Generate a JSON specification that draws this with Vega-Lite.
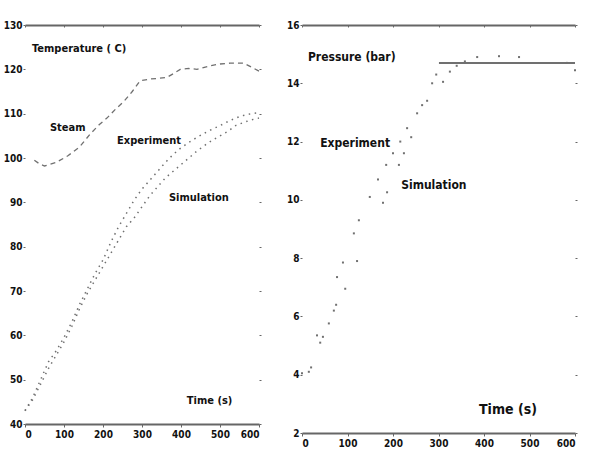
{
  "$schema": "https://vega.github.io/schema/vega-lite/v6.json",
  "background": "white",
  "padding": {"left": 3, "top": 20, "right": 4, "bottom": 2},
  "spacing": 24,
  "config": {
    "view": {"stroke": null},
    "axis": {"labelFont": "DejaVu Sans Condensed", "labelFontWeight": "bold", "labelFontSize": 10, "labelColor": "#111", "grid": false, "title": null, "domainColor": "#666", "tickColor": "#666"},
    "text": {"font": "DejaVu Sans Condensed", "fontWeight": "bold", "color": "#111", "align": "left", "baseline": "middle"}
  },
  "datasets": {
    "steam": [
      {"t": 24, "v": 99.5}, {"t": 35, "v": 98.8}, {"t": 50, "v": 98.2}, {"t": 80, "v": 99}, {"t": 110, "v": 100.5},
      {"t": 140, "v": 102.5}, {"t": 167, "v": 105.4}, {"t": 190, "v": 107.5}, {"t": 210, "v": 109}, {"t": 232, "v": 111},
      {"t": 254, "v": 112.8}, {"t": 275, "v": 115}, {"t": 295, "v": 117.4}, {"t": 320, "v": 117.8}, {"t": 345, "v": 118},
      {"t": 364, "v": 118.2}, {"t": 380, "v": 119}, {"t": 398, "v": 120}, {"t": 420, "v": 120.2}, {"t": 441, "v": 120},
      {"t": 474, "v": 120.8}, {"t": 500, "v": 121.2}, {"t": 526, "v": 121.4}, {"t": 561, "v": 121.4}, {"t": 600, "v": 119.6}
    ],
    "temp": [
      {"s": "Experiment", "t": 0, "v": 43}, {"s": "Experiment", "t": 20, "v": 46}, {"s": "Experiment", "t": 40, "v": 50},
      {"s": "Experiment", "t": 60, "v": 54}, {"s": "Experiment", "t": 80, "v": 56.5}, {"s": "Experiment", "t": 100, "v": 59.5},
      {"s": "Experiment", "t": 120, "v": 63}, {"s": "Experiment", "t": 140, "v": 67}, {"s": "Experiment", "t": 160, "v": 70.5},
      {"s": "Experiment", "t": 180, "v": 74}, {"s": "Experiment", "t": 200, "v": 77}, {"s": "Experiment", "t": 220, "v": 81},
      {"s": "Experiment", "t": 240, "v": 84.5}, {"s": "Experiment", "t": 260, "v": 87.5}, {"s": "Experiment", "t": 280, "v": 90.5},
      {"s": "Experiment", "t": 300, "v": 93}, {"s": "Experiment", "t": 320, "v": 95}, {"s": "Experiment", "t": 340, "v": 97},
      {"s": "Experiment", "t": 360, "v": 99}, {"s": "Experiment", "t": 380, "v": 100.8}, {"s": "Experiment", "t": 400, "v": 102.3},
      {"s": "Experiment", "t": 420, "v": 103.5}, {"s": "Experiment", "t": 440, "v": 104.6}, {"s": "Experiment", "t": 460, "v": 105.6},
      {"s": "Experiment", "t": 480, "v": 106.5}, {"s": "Experiment", "t": 500, "v": 107.3}, {"s": "Experiment", "t": 520, "v": 108.2},
      {"s": "Experiment", "t": 540, "v": 109}, {"s": "Experiment", "t": 560, "v": 109.6}, {"s": "Experiment", "t": 580, "v": 110},
      {"s": "Experiment", "t": 600, "v": 110.2},
      {"s": "Simulation", "t": 0, "v": 43}, {"s": "Simulation", "t": 20, "v": 45.5}, {"s": "Simulation", "t": 40, "v": 49},
      {"s": "Simulation", "t": 60, "v": 52.5}, {"s": "Simulation", "t": 80, "v": 55.5}, {"s": "Simulation", "t": 100, "v": 58.5},
      {"s": "Simulation", "t": 120, "v": 62}, {"s": "Simulation", "t": 140, "v": 66}, {"s": "Simulation", "t": 160, "v": 69.5},
      {"s": "Simulation", "t": 180, "v": 72.5}, {"s": "Simulation", "t": 200, "v": 75.5}, {"s": "Simulation", "t": 220, "v": 78.5},
      {"s": "Simulation", "t": 240, "v": 81.5}, {"s": "Simulation", "t": 260, "v": 84.5}, {"s": "Simulation", "t": 280, "v": 86.5},
      {"s": "Simulation", "t": 300, "v": 89}, {"s": "Simulation", "t": 320, "v": 91.5}, {"s": "Simulation", "t": 340, "v": 93.5},
      {"s": "Simulation", "t": 360, "v": 95.5}, {"s": "Simulation", "t": 380, "v": 97}, {"s": "Simulation", "t": 400, "v": 98.5},
      {"s": "Simulation", "t": 420, "v": 100}, {"s": "Simulation", "t": 440, "v": 101.5}, {"s": "Simulation", "t": 460, "v": 102.8},
      {"s": "Simulation", "t": 480, "v": 104}, {"s": "Simulation", "t": 500, "v": 105}, {"s": "Simulation", "t": 520, "v": 106},
      {"s": "Simulation", "t": 540, "v": 107.3}, {"s": "Simulation", "t": 560, "v": 108}, {"s": "Simulation", "t": 580, "v": 108.6},
      {"s": "Simulation", "t": 600, "v": 109}
    ],
    "tlabels": [
      {"t": 18, "v": 124.6, "text": "Temperature ( C)", "size": 11},
      {"t": 64, "v": 106.8, "text": "Steam", "size": 11},
      {"t": 236, "v": 103.8, "text": "Experiment", "size": 11},
      {"t": 369, "v": 91, "text": "Simulation", "size": 11},
      {"t": 415, "v": 45.2, "text": "Time (s)", "size": 11}
    ],
    "psteam": [{"t": 301, "v": 14.7}, {"t": 600, "v": 14.7}],
    "pres": [
      {"s": "Experiment", "t": 0, "v": 4.05}, {"s": "Experiment", "t": 15, "v": 4.1}, {"s": "Simulation", "t": 20, "v": 4.25},
      {"s": "Experiment", "t": 33, "v": 5.35}, {"s": "Simulation", "t": 40, "v": 5.1}, {"s": "Experiment", "t": 46, "v": 5.3},
      {"s": "Simulation", "t": 59, "v": 5.76}, {"s": "Experiment", "t": 70, "v": 6.2}, {"s": "Experiment", "t": 75, "v": 6.4},
      {"s": "Experiment", "t": 77, "v": 7.35}, {"s": "Experiment", "t": 90, "v": 7.85}, {"s": "Simulation", "t": 95, "v": 6.95},
      {"s": "Experiment", "t": 114, "v": 8.85}, {"s": "Simulation", "t": 121, "v": 7.9}, {"s": "Experiment", "t": 125, "v": 9.3},
      {"s": "Simulation", "t": 149, "v": 10.1}, {"s": "Experiment", "t": 167, "v": 10.7}, {"s": "Simulation", "t": 178, "v": 9.9},
      {"s": "Simulation", "t": 187, "v": 10.26}, {"s": "Experiment", "t": 185, "v": 11.2}, {"s": "Experiment", "t": 200, "v": 11.6},
      {"s": "Simulation", "t": 213, "v": 11.2}, {"s": "Simulation", "t": 224, "v": 11.6}, {"s": "Experiment", "t": 216, "v": 12},
      {"s": "Experiment", "t": 231, "v": 12.46}, {"s": "Simulation", "t": 240, "v": 12.15}, {"s": "Experiment", "t": 253, "v": 12.97},
      {"s": "Experiment", "t": 264, "v": 13.25}, {"s": "Simulation", "t": 275, "v": 13.4}, {"s": "Experiment", "t": 286, "v": 14},
      {"s": "Experiment", "t": 295, "v": 14.3}, {"s": "Simulation", "t": 310, "v": 14.05}, {"s": "Simulation", "t": 325, "v": 14.4},
      {"s": "Simulation", "t": 340, "v": 14.6}, {"s": "Experiment", "t": 358, "v": 14.75}, {"s": "Experiment", "t": 385, "v": 14.9},
      {"s": "Experiment", "t": 433, "v": 14.93}, {"s": "Experiment", "t": 477, "v": 14.9}, {"s": "Simulation", "t": 582, "v": 14.7},
      {"s": "Simulation", "t": 600, "v": 14.45}
    ],
    "plabels": [
      {"t": 13, "v": 14.9, "text": "Pressure (bar)", "size": 12},
      {"t": 40, "v": 11.95, "text": "Experiment", "size": 12},
      {"t": 218, "v": 10.5, "text": "Simulation", "size": 12},
      {"t": 389, "v": 2.79, "text": "Time (s)", "size": 14}
    ]
  },
  "hconcat": [
    {
      "width": 234,
      "height": 399,
      "layer": [
        {
          "data": {"name": "steam"},
          "mark": {"type": "line", "color": "#707070", "strokeWidth": 1.3, "strokeDash": [5, 4]},
          "encoding": {
            "x": {"field": "t", "type": "quantitative", "scale": {"domain": [0, 600], "nice": false},
              "axis": {"orient": "bottom", "values": [0, 100, 200, 300, 400, 500, 600], "domainWidth": 2, "tickSize": 3, "labelPadding": 2}},
            "y": {"field": "v", "type": "quantitative", "scale": {"domain": [40, 130], "nice": false},
              "axis": {"orient": "left", "values": [40, 50, 60, 70, 80, 90, 100, 110, 120, 130], "domain": false, "tickSize": 2, "labelPadding": 1}}
          }
        },
        {
          "data": {"name": "temp"},
          "mark": {"type": "line", "color": "#707070", "strokeWidth": 1.5, "strokeDash": [1.5, 4.5]},
          "encoding": {
            "x": {"field": "t", "type": "quantitative", "axis": null},
            "y": {"field": "v", "type": "quantitative", "axis": null},
            "detail": {"field": "s"}
          }
        },
        {
          "data": {"name": "tlabels"},
          "mark": {"type": "text"},
          "encoding": {
            "x": {"field": "t", "type": "quantitative",
              "axis": {"orient": "top", "values": [0, 100, 200, 300, 400, 500, 600], "labels": false, "domainWidth": 2, "tickSize": -2}},
            "y": {"field": "v", "type": "quantitative",
              "axis": {"orient": "right", "values": [40, 50, 60, 70, 80, 90, 100, 110, 120, 130], "labels": false, "domain": false, "tickSize": 2}},
            "text": {"field": "text"},
            "size": {"field": "size", "type": "quantitative", "scale": null}
          }
        }
      ],
      "resolve": {"axis": {"x": "independent", "y": "independent"}}
    },
    {
      "width": 273,
      "height": 408,
      "layer": [
        {
          "data": {"name": "psteam"},
          "mark": {"type": "line", "color": "#707070", "strokeWidth": 2},
          "encoding": {
            "x": {"field": "t", "type": "quantitative", "scale": {"domain": [0, 600], "nice": false},
              "axis": {"orient": "bottom", "values": [0, 100, 200, 300, 400, 500, 600], "domainWidth": 2, "tickSize": 3, "labelPadding": 2}},
            "y": {"field": "v", "type": "quantitative", "scale": {"domain": [2, 16], "nice": false},
              "axis": {"orient": "left", "values": [2, 4, 6, 8, 10, 12, 14, 16], "domain": false, "tickSize": 2, "labelPadding": 1}}
          }
        },
        {
          "data": {"name": "pres"},
          "mark": {"type": "square", "color": "#707070", "filled": true, "size": 4, "opacity": 1},
          "encoding": {
            "x": {"field": "t", "type": "quantitative", "axis": null},
            "y": {"field": "v", "type": "quantitative", "axis": null}
          }
        },
        {
          "data": {"name": "plabels"},
          "mark": {"type": "text"},
          "encoding": {
            "x": {"field": "t", "type": "quantitative",
              "axis": {"orient": "top", "values": [0, 100, 200, 300, 400, 500, 600], "labels": false, "domainWidth": 2, "tickSize": -2}},
            "y": {"field": "v", "type": "quantitative",
              "axis": {"orient": "right", "values": [2, 4, 6, 8, 10, 12, 14, 16], "labels": false, "domain": false, "tickSize": 2}},
            "text": {"field": "text"},
            "size": {"field": "size", "type": "quantitative", "scale": null}
          }
        }
      ],
      "resolve": {"axis": {"x": "independent", "y": "independent"}}
    }
  ]
}
